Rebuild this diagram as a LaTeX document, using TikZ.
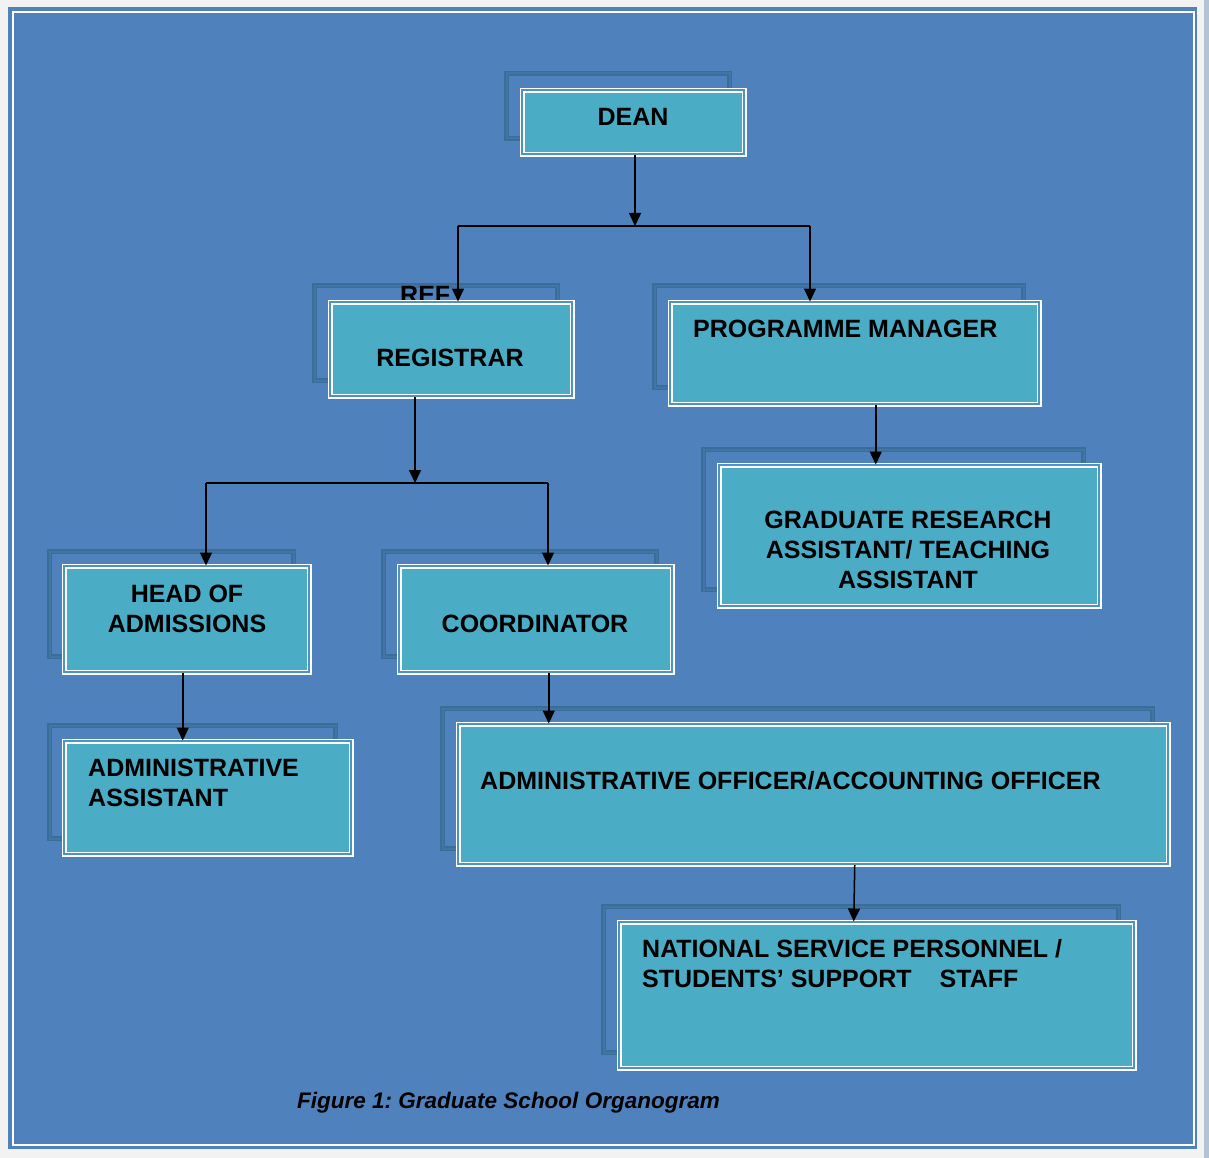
\documentclass[tikz,border=0pt]{standalone}
\usepackage{fontspec}
\setmainfont{Liberation Sans}
\usetikzlibrary{positioning,arrows.meta}
\definecolor{pagegray}{HTML}{F2F2F2}
\definecolor{bgblue}{HTML}{4F81BD}
\definecolor{boxteal}{HTML}{4BACC6}
\definecolor{shadeblue}{HTML}{3B6D99}
\frenchspacing

\tikzset{
  shadowbox/.style={draw=shadeblue, line width=1.5pt, double=shadeblue!65!bgblue, double distance=2pt},
  orgbox/.style={draw=white, line width=1.5pt, double=bgblue!55!boxteal, double distance=2pt,
    fill=boxteal, inner sep=0pt, anchor=north west},
  lbl/.style={font=\bfseries\fontsize{25}{30}\selectfont, text=black, inner sep=0pt},
  link/.style={line width=1.5pt, -{Triangle[length=13pt, width=12pt]}},
  wire/.style={line width=1.5pt},
}

\begin{document}
\begin{tikzpicture}[x=1pt, y=-1pt]
    \useasboundingbox (0,0) rectangle (1209,1158);

    % Sfondo e cornice
    \fill[pagegray] (0,0) rectangle (1209,1158);
    \fill[bgblue] (8,7) rectangle (1197,1149);
    \draw[white, line width=2pt] (12.5,12) rectangle (1193.5,1144.5);
    \fill[shadeblue!35!pagegray] (1204,0) rectangle (1209,1158);

    % Ombre dei riquadri
    \draw[shadowbox] (506.5,73.5) rectangle (729.5,138.5);
    \draw[shadowbox] (314.5,285.5) rectangle (557.5,380.5);
    \draw[shadowbox] (654.5,285.5) rectangle (1023.5,387.5);
    \draw[shadowbox] (703.5,449.5) rectangle (1083.5,589.5);
    \draw[shadowbox] (49.5,551.5) rectangle (293.5,656.5);
    \draw[shadowbox] (383.5,551.5) rectangle (656.5,656.5);
    \draw[shadowbox] (49.5,725.5) rectangle (335.5,838.5);
    \draw[shadowbox] (442.5,708.5) rectangle (1152.5,848.5);
    \draw[shadowbox] (603.5,906.5) rectangle (1118.5,1052.5);

    % Testo coperto sopra il registrar
    \node[lbl, anchor=base west] (reftxt) at (400,303) {REF};

    % Riquadri
    \node[orgbox, minimum width=222pt, minimum height=64pt] (dean) at (521.5,89.5) {};
    \node[orgbox, minimum width=242pt, minimum height=94pt] (registrar) at (329.5,301.5) {};
    \node[orgbox, minimum width=369pt, minimum height=102pt] (progmgr) at (669.5,301.5) {};
    \node[orgbox, minimum width=380pt, minimum height=141pt] (grad) at (718.5,464.5) {};
    \node[orgbox, minimum width=245pt, minimum height=106pt] (head) at (63.5,565.5) {};
    \node[orgbox, minimum width=273pt, minimum height=106pt] (coord) at (398.5,565.5) {};
    \node[orgbox, minimum width=287pt, minimum height=113pt] (admasst) at (63.5,740.5) {};
    \node[orgbox, minimum width=710pt, minimum height=140pt] (admoff) at (457.5,723.5) {};
    \node[orgbox, minimum width=515pt, minimum height=146pt] (nsp) at (618.5,921.5) {};

    % Etichette
    \node[lbl] (deantxt) at (633,117) {DEAN};
    \node[lbl] (registrartxt) at (450,358) {REGISTRAR};
    \node[lbl, anchor=west] (progmgrtxt) at (693,329) {PROGRAMME MANAGER};
    \node[lbl, align=center] (gradtxt) at (908,550) {GRADUATE RESEARCH\\ASSISTANT/ TEACHING\\ASSISTANT};
    \node[lbl, align=center] (headtxt) at (187,609) {HEAD OF\\ADMISSIONS};
    \node[lbl] (coordtxt) at (535,624) {COORDINATOR};
    \node[lbl, align=left, anchor=west] (admassttxt) at (88,783) {ADMINISTRATIVE\\ASSISTANT};
    \node[lbl, anchor=west] (admofftxt) at (480,781) {ADMINISTRATIVE OFFICER/ACCOUNTING OFFICER};
    \node[lbl, align=left, anchor=west] (nsptxt) at (642,964) {NATIONAL SERVICE PERSONNEL /\\STUDENTS’ SUPPORT\hspace{28pt}STAFF};

    % Collegamenti dal dean
    \coordinate (j1) at (635,226);
    \coordinate (jl) at (458,226);
    \coordinate (jr) at (810,226);
    \draw[link] (dean.south -| j1) -- (j1);
    \draw[wire] (jl) -- (jr);
    \draw[link] (jl) -- (jl |- registrar.north);
    \draw[link] (jr) -- (jr |- progmgr.north);

    % Collegamenti dal registrar
    \coordinate (k1) at (415,483);
    \coordinate (kl) at (206,483);
    \coordinate (kr) at (548,483);
    \draw[link] (registrar.south -| k1) -- (k1);
    \draw[wire] (kl) -- (kr);
    \draw[link] (kl) -- (kl |- head.north);
    \draw[link] (kr) -- (kr |- coord.north);

    % Collegamenti singoli
    \draw[link] ([xshift=21pt]progmgr.south) -- ([xshift=21pt]progmgr.south |- grad.north);
    \draw[link] ([xshift=-4pt]head.south) -- ([xshift=-4pt]head.south |- admasst.north);
    \draw[link] ([xshift=13pt]coord.south) -- ([xshift=13pt]coord.south |- admoff.north);
    \draw[link] ([xshift=41.5pt]admoff.south) -- ([xshift=-23pt]nsp.north);

    % Didascalia
    \node[font=\bfseries\itshape\fontsize{22.5}{27}\selectfont, anchor=west, inner sep=0pt] (caption) at (297,1103) {Figure 1: Graduate School Organogram};
\end{tikzpicture}
\end{document}
